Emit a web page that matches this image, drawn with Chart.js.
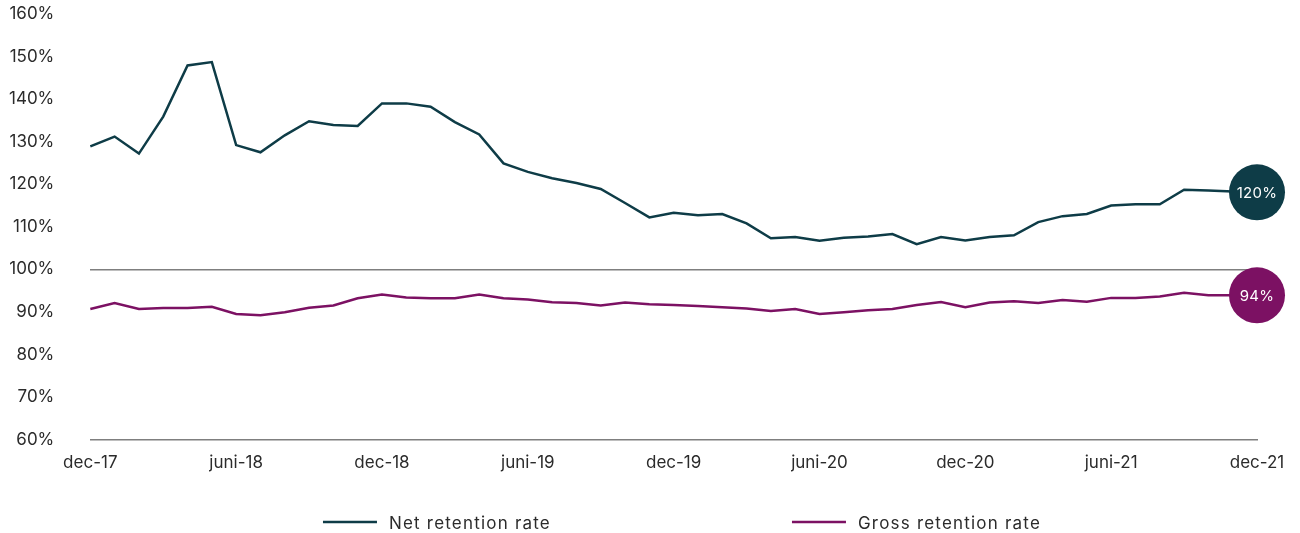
<!DOCTYPE html>
<html>
<head>
<meta charset="utf-8">
<script src="https://cdn.jsdelivr.net/npm/chart.js@4"></script>
<style>
  html, body { margin: 0; padding: 0; background: #fff; }
  #wrap { width: 1300px; height: 533px; }
</style>
</head>
<body>
<div id="wrap"><canvas id="chart"></canvas></div>
<script>
//Month labels, dec-17 .. dec-21
const months = [
    'dec-17', 'jan-18', 'feb-18', 'mar-18', 'apr-18', 'maj-18', 'juni-18', 'juli-18', 'aug-18', 'sep-18', 'okt-18', 'nov-18',
    'dec-18', 'jan-19', 'feb-19', 'mar-19', 'apr-19', 'maj-19', 'juni-19', 'juli-19', 'aug-19', 'sep-19', 'okt-19', 'nov-19',
    'dec-19', 'jan-20', 'feb-20', 'mar-20', 'apr-20', 'maj-20', 'juni-20', 'juli-20', 'aug-20', 'sep-20', 'okt-20', 'nov-20',
    'dec-20', 'jan-21', 'feb-21', 'mar-21', 'apr-21', 'maj-21', 'juni-21', 'juli-21', 'aug-21', 'sep-21', 'okt-21', 'nov-21',
    'dec-21'
];

//Series values in %
const netRetention = [
    128.9, 131.2, 127.2, 135.9, 147.9, 148.7, 129.2, 127.5, 131.5, 134.8, 133.9, 133.7,
    139.0, 139.0, 138.2, 134.6, 131.7, 124.9, 122.9, 121.4, 120.3, 118.9, 115.6, 112.2,
    113.3, 112.7, 113.0, 110.8, 107.3, 107.6, 106.7, 107.4, 107.7, 108.3, 105.9, 107.6,
    106.8, 107.6, 108.0, 111.1, 112.5, 113.0, 115.0, 115.3, 115.3, 118.7, 118.5, 118.3,
    118.1
];

const grossRetention = [
    90.7, 92.1, 90.7, 90.9, 90.9, 91.2, 89.5, 89.2, 89.9, 91.0, 91.5, 93.2,
    94.1, 93.4, 93.2, 93.2, 94.1, 93.2, 92.9, 92.3, 92.1, 91.5, 92.2, 91.8,
    91.6, 91.4, 91.1, 90.8, 90.2, 90.7, 89.5, 89.9, 90.4, 90.7, 91.6, 92.3,
    91.1, 92.2, 92.5, 92.1, 92.8, 92.4, 93.3, 93.3, 93.6, 94.5, 93.9, 93.9,
    93.9
];

const seriesNames = ['Net retention rate', 'Gross retention rate'];
const endLabels = ['120%', '94%'];

const netColor = '#0e3c47';
const grossColor = '#7c1163';
const fontFamily = "Inter, 'Open Sans', sans-serif";

//Slightly wider letter spacing for the tick labels
const spacing = {
    id: 'spacing',
    beforeInit(chart) {
        chart.ctx.letterSpacing = '0.4px';
    }
};

//Bubble with the latest value at the end of each line
const endBubbles = {
    id: 'endBubbles',
    afterDatasetsDraw(chart) {
        const ctx = chart.ctx;
        chart.data.datasets.forEach((ds, i) => {
            const meta = chart.getDatasetMeta(i);
            const pt = meta.data[meta.data.length - 1];
            ctx.save();
            ctx.beginPath();
            ctx.arc(pt.x, pt.y, 28, 0, Math.PI * 2);
            ctx.fillStyle = ds.borderColor;
            ctx.fill();
            ctx.fillStyle = '#ffffff';
            ctx.font = '15px ' + fontFamily;
            ctx.letterSpacing = '0.3px';
            ctx.textAlign = 'center';
            ctx.textBaseline = 'middle';
            ctx.fillText(endLabels[i], pt.x, pt.y + 1);
            ctx.restore();
        });
    }
};

//Wide legend at the bottom
const bottomLegend = {
    id: 'bottomLegend',
    afterDraw(chart) {
        const ctx = chart.ctx;
        const lineW = 54, textGap = 12, itemGap = 241;
        ctx.save();
        ctx.font = '17px ' + fontFamily;
        ctx.letterSpacing = '1.2px';
        const widths = chart.data.datasets.map(ds => lineW + textGap + ctx.measureText(ds.label).width);
        const total = widths.reduce((a, b) => a + b, 0) + itemGap * (widths.length - 1);
        let x = 682 - total / 2;
        const y = 522;
        chart.data.datasets.forEach((ds, i) => {
            ctx.beginPath();
            ctx.moveTo(x, y);
            ctx.lineTo(x + lineW, y);
            ctx.strokeStyle = ds.borderColor;
            ctx.lineWidth = 2.5;
            ctx.stroke();
            ctx.fillStyle = '#2b2b2b';
            ctx.textAlign = 'left';
            ctx.textBaseline = 'middle';
            ctx.fillText(ds.label, x + lineW + textGap, y + 2);
            x += widths[i] + itemGap;
        });
        ctx.restore();
    }
};

Chart.defaults.font.family = fontFamily;
Chart.defaults.font.size = 17;
Chart.defaults.color = '#2b2b2b';

const chart = new Chart(document.getElementById('chart').getContext('2d'), {
    type: 'line',
    data: {
        labels: months,
        datasets: [{
            label: seriesNames[0],
            data: netRetention,
            borderColor: netColor,
            backgroundColor: netColor,
            borderWidth: 2.5,
            pointRadius: 0,
            tension: 0
        }, {
            label: seriesNames[1],
            data: grossRetention,
            borderColor: grossColor,
            backgroundColor: grossColor,
            borderWidth: 2.5,
            pointRadius: 0,
            tension: 0
        }]
    },
    options: {
        responsive: true,
        maintainAspectRatio: false,
        animation: false,
        layout: {
            padding: { left: 9, right: 43, top: 14, bottom: 60 }
        },
        scales: {
            x: {
                offset: false,
                grid: {
                    display: true,
                    drawOnChartArea: false,
                    drawTicks: true,
                    tickLength: 13,
                    color: 'rgba(0,0,0,0)',
                    tickColor: 'rgba(0,0,0,0)'
                },
                border: { display: true, color: '#7f7f7f', width: 1.5 },
                ticks: {
                    autoSkip: false,
                    maxRotation: 0,
                    padding: 0,
                    callback: function (value, index) {
                        return index % 6 === 0 ? months[index] : '';
                    }
                }
            },
            y: {
                min: 60,
                max: 160,
                border: { display: false },
                grid: {
                    drawTicks: true,
                    tickLength: 36,
                    tickColor: 'rgba(0,0,0,0)',
                    lineWidth: 1.5,
                    color: (c) => (c.tick && c.tick.value === 100) ? '#7f7f7f' : 'rgba(0,0,0,0)'
                },
                ticks: {
                    stepSize: 10,
                    padding: 0,
                    callback: (v) => v + '%'
                }
            }
        },
        plugins: {
            legend: { display: false },
            tooltip: { enabled: false }
        }
    },
    plugins: [spacing, endBubbles, bottomLegend]
});
</script>
</body>
</html>
